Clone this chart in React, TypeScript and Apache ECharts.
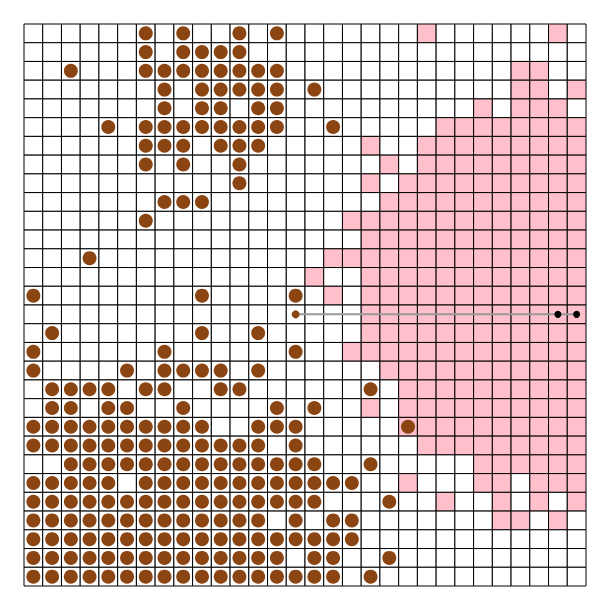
import React, { useEffect, useRef } from "react";
import * as echarts from "echarts";

const GRID_N = 30;

// pink cells: per row, runs of [fromCol, toCol]
const pinkRuns: number[][][] = [
  [[21, 21], [28, 28]],
  [],
  [[26, 27]],
  [[26, 27], [29, 29]],
  [[24, 24], [26, 28]],
  [[22, 29]],
  [[18, 18], [21, 29]],
  [[19, 19], [21, 29]],
  [[18, 18], [20, 29]],
  [[19, 29]],
  [[17, 29]],
  [[18, 29]],
  [[16, 29]],
  [[15, 15], [18, 29]],
  [[16, 16], [18, 29]],
  [[18, 29]],
  [[18, 29]],
  [[17, 29]],
  [[19, 29]],
  [[20, 29]],
  [[18, 18], [20, 29]],
  [[20, 29]],
  [[21, 29]],
  [[24, 29]],
  [[20, 20], [24, 25], [27, 29]],
  [[22, 22], [25, 25], [27, 27], [29, 29]],
  [[25, 26], [28, 28]],
  [],
  [],
  [],
];

// brown circles: per row, runs of [fromCol, toCol]
const brownRuns: number[][][] = [
  [[6, 6], [8, 8], [11, 11], [13, 13]],
  [[6, 6], [8, 11]],
  [[2, 2], [6, 13]],
  [[7, 7], [9, 13], [15, 15]],
  [[7, 7], [9, 10], [12, 13]],
  [[4, 4], [6, 13], [16, 16]],
  [[6, 8], [10, 12]],
  [[6, 6], [8, 8], [11, 11]],
  [[11, 11]],
  [[7, 9]],
  [[6, 6]],
  [],
  [[3, 3]],
  [],
  [[0, 0], [9, 9], [14, 14]],
  [],
  [[1, 1], [9, 9], [12, 12]],
  [[0, 0], [7, 7], [14, 14]],
  [[0, 0], [5, 5], [7, 10], [12, 12]],
  [[1, 4], [6, 7], [10, 11], [18, 18]],
  [[1, 2], [4, 5], [8, 8], [13, 13], [15, 15]],
  [[0, 9], [12, 14], [20, 20]],
  [[0, 12], [14, 14]],
  [[2, 15], [18, 18]],
  [[0, 4], [6, 17]],
  [[0, 15], [19, 19]],
  [[0, 12], [14, 14], [16, 17]],
  [[0, 17]],
  [[0, 13], [15, 16], [19, 19]],
  [[0, 16], [18, 18]],
];

// agent: start cell, path cells, target markers  [col, row]
const agentStart: number[] = [14, 15];
const pathCells: number[][] = [[14, 15], [28, 15], [29, 15]];
const pathMarkers: number[][] = [[28, 15], [29, 15]];

function expand(runs: number[][][]): Set<string> {
  const s = new Set<string>();
  runs.forEach((row, r) =>
    row.forEach(([a, b]) => {
      for (let c = a; c <= b; c++) s.add(c + "," + r);
    })
  );
  return s;
}

export default function App() {
  const ref = useRef<HTMLDivElement>(null);
  useEffect(() => {
    if (!ref.current) return;
    const chart = echarts.init(ref.current, undefined, { renderer: "svg" });
    const pink = expand(pinkRuns);
    const brown = expand(brownRuns);
    const cells: number[][] = [];
    for (let r = 0; r < GRID_N; r++)
      for (let c = 0; c < GRID_N; c++) cells.push([c, r, pink.has(c + "," + r) ? 1 : 0]);
    const circles: number[][] = [];
    for (let r = 0; r < GRID_N; r++)
      for (let c = 0; c < GRID_N; c++) if (brown.has(c + "," + r)) circles.push([c + 0.5, r + 0.5]);

    chart.setOption({
      animation: false,
      grid: { left: 24, top: 24, right: 24, bottom: 24 },
      xAxis: { type: "value", min: 0, max: GRID_N, show: false },
      yAxis: { type: "value", min: 0, max: GRID_N, inverse: true, show: false },
      series: [
        {
          type: "custom",
          data: cells,
          renderItem: (params: any, api: any) => {
            const c = api.value(0);
            const r = api.value(1);
            const v = api.value(2);
            const p0 = api.coord([c, r]);
            const p1 = api.coord([c + 1, r + 1]);
            return {
              type: "rect",
              shape: { x: p0[0], y: p0[1], width: p1[0] - p0[0], height: p1[1] - p0[1] },
              style: { fill: v ? "#FFC0CB" : "#ffffff", stroke: "#000000", lineWidth: 1 },
            };
          },
          z: 1,
        },
        {
          type: "scatter",
          data: circles,
          symbol: "circle",
          symbolSize: 14,
          itemStyle: { color: "#8B4513", opacity: 1 },
          z: 3,
        },
        {
          type: "line",
          data: pathCells.map(([c, r]) => [c + 0.5, r + 0.5]),
          showSymbol: false,
          symbol: "none",
          lineStyle: { color: "#999999", width: 2 },
          z: 4,
        },
        {
          type: "scatter",
          data: [[agentStart[0] + 0.5, agentStart[1] + 0.5]],
          symbolSize: 8,
          itemStyle: { color: "#8B4513", opacity: 1 },
          z: 5,
        },
        {
          type: "scatter",
          data: pathMarkers.map(([c, r]) => [c + 0.5, r + 0.5]),
          symbolSize: 7,
          itemStyle: { color: "#000000", opacity: 1 },
          z: 5,
        },
      ],
    });
    return () => chart.dispose();
  }, []);
  return (
    <div
      ref={ref}
      style={{ position: "fixed", left: 0, top: 0, width: 610, height: 610, background: "#ffffff" }}
    />
  );
}
